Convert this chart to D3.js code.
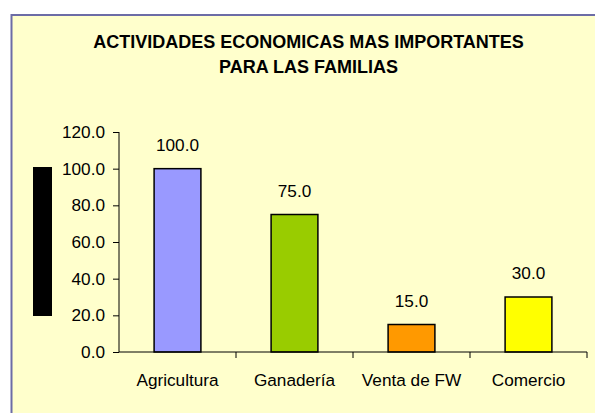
<!DOCTYPE html>
<html lang="es">
<head>
<meta charset="UTF-8">
<title>Actividades economicas</title>
<script src="https://cdn.jsdelivr.net/npm/d3@7"></script>
<style>
  body { margin: 0; background: #ffffff; }
  text { font-family: "Liberation Sans", Arial, sans-serif; }
</style>
</head>
<body>
<svg width="595" height="413"></svg>
<script>
const categories = ["Agricultura", "Ganadería", "Venta de FW", "Comercio"];
const values = [100.0, 75.0, 15.0, 30.0];
const barColors = ["#9999ff", "#99cc00", "#ff9900", "#ffff00"];
const yTicks = [0, 20, 40, 60, 80, 100, 120];
const titleLines = ["ACTIVIDADES ECONOMICAS MAS IMPORTANTES", "PARA LAS FAMILIAS"];

const svg = d3.select("svg");

// chart area background and border
svg.append("rect")
    .attr("x", 11.5).attr("y", 15)
    .attr("width", 620).attr("height", 420)
    .attr("fill", "#ffffcc")
    .attr("stroke", "#6c6ca6")
    .attr("stroke-width", 2);

const title = svg.append("text")
    .attr("text-anchor", "middle")
    .attr("font-weight", "bold")
    .attr("font-size", 18)
    .attr("fill", "#000");
titleLines.forEach((t, i) => {
    title.append("tspan").attr("x", 308.5).attr("y", 48 + i * 25).text(t);
});

// black box on the left (axis title placeholder)
svg.append("rect")
    .attr("x", 33).attr("y", 167)
    .attr("width", 19).attr("height", 149)
    .attr("fill", "#000");

const x = d3.scaleBand()
    .domain(categories)
    .range([119, 587])
    .paddingInner(0.6)
    .paddingOuter(0.3);

const y = d3.scaleLinear()
    .domain([0, 120])
    .range([352, 132]);

const g = svg.append("g");

g.selectAll("rect.bar")
    .data(values)
    .join("rect")
    .attr("class", "bar")
    .attr("x", (d, i) => x(categories[i]))
    .attr("y", d => y(d))
    .attr("width", x.bandwidth())
    .attr("height", d => y(0) - y(d))
    .attr("fill", (d, i) => barColors[i])
    .attr("stroke", "#000")
    .attr("stroke-width", 1.5);

g.selectAll("text.val")
    .data(values)
    .join("text")
    .attr("class", "val")
    .attr("x", (d, i) => x(categories[i]) + x.bandwidth() / 2)
    .attr("y", d => y(d) - 18)
    .attr("text-anchor", "middle")
    .attr("font-size", 17.2)
    .text(d => d3.format(".1f")(d));

// y axis
const yAxis = svg.append("g")
    .attr("transform", "translate(119,0)")
    .call(d3.axisLeft(y).tickValues(yTicks).tickFormat(d3.format(".1f")).tickSize(6).tickPadding(8));
yAxis.select(".domain").attr("d", "M0," + y(120) + "V" + y(0));

// x axis with ticks between categories
const xBand = d3.scaleBand().domain(categories).range([119, 587]);
const xAxis = svg.append("g")
    .attr("transform", "translate(0," + y(0) + ")")
    .call(d3.axisBottom(xBand).tickSize(0).tickPadding(22));
xAxis.select(".domain").attr("d", "M119,0H587");
xAxis.selectAll(".sep")
    .data(categories)
    .join("line")
    .attr("class", "sep")
    .attr("x1", d => xBand(d) + xBand.bandwidth())
    .attr("x2", d => xBand(d) + xBand.bandwidth())
    .attr("y1", 0).attr("y2", 6)
    .attr("stroke", "#000");

svg.selectAll(".tick text")
    .attr("font-family", "Liberation Sans, Arial, sans-serif")
    .attr("font-size", 17.2)
    .attr("fill", "#000");
svg.selectAll(".domain, .tick line").attr("stroke", "#000");
</script>
</body>
</html>
